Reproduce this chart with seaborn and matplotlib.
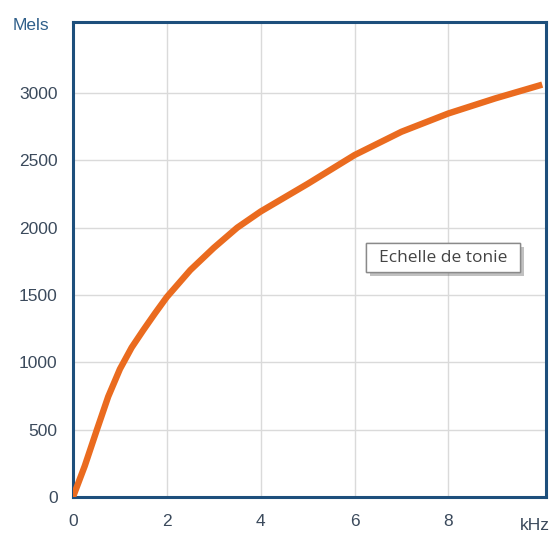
import matplotlib
matplotlib.use("Agg")
import matplotlib.pyplot as plt
import matplotlib.patheffects as pe
from matplotlib.patches import Rectangle
import seaborn as sns
import pandas as pd

freq_khz = [0, 0.25, 0.5, 0.75, 1, 1.25, 1.5, 1.75, 2, 2.5, 3, 3.5, 4, 5, 6, 7, 8, 9, 10]
mels = [0, 230, 490, 745, 950, 1110, 1240, 1365, 1485, 1685, 1850, 2000, 2120, 2325, 2539, 2712, 2848, 2960, 3062]
x_ticks = [0, 2, 4, 6, 8]
y_ticks = [0, 500, 1000, 1500, 2000, 2500, 3000]
y_label = "Mels"
x_label = "kHz"
note = "Echelle de tonie"

sns.set_theme(style="white")
plt.rcParams['font.family'] = ['Liberation Sans', 'DejaVu Sans']

frame = "#1d4f7c"
tcol = "#3b4a5c"
W, H = 553, 536

fig = plt.figure(figsize=(5.53, 5.36), dpi=100)
ax = fig.add_axes([73 / W, 1 - 497 / H, (546 - 73) / W, (497 - 22) / H])

df = pd.DataFrame({"f": freq_khz, "m": mels})
sns.lineplot(data=df, x="f", y="m", ax=ax, color="#ea6b1f", linewidth=4.6,
             solid_capstyle="butt", solid_joinstyle="round", zorder=3)

ax.set_xlim(0, 10.08)
ax.set_ylim(0, 3527)
ax.set_xticks(x_ticks)
ax.set_yticks(y_ticks)
ax.set_xlabel("")
ax.set_ylabel("")
ax.grid(True, color="#dadada", linewidth=1.0, zorder=0)
for s in ax.spines.values():
    s.set_color(frame)
    s.set_linewidth(2.2)
    s.set_visible(True)
ax.tick_params(axis="both", direction="out", length=7, width=2.2, color=frame,
               labelcolor=tcol, labelsize=12.5, pad=4)
ax.tick_params(axis="x", pad=5)

fig.text(13 / W, 1 - 25 / H, y_label, ha="left", va="center", color="#2f5f8a",
         fontsize=12.5)
fig.text(535 / W, 1 - 525 / H, x_label, ha="center", va="center", color=tcol,
         fontsize=12.5)

# annotation box (pixel coordinates)
bx0, by0, bx1, by1 = 366, 243, 520, 272
rect = Rectangle((bx0 / W, 1 - by1 / H), (bx1 - bx0) / W, (by1 - by0) / H,
                 transform=fig.transFigure, facecolor="white", edgecolor="#8a8a8a",
                 linewidth=1.0, zorder=5)
rect.set_path_effects([
    pe.withSimplePatchShadow(offset=(3, -3), shadow_rgbFace="#777777", alpha=0.45),
    pe.Normal()])
fig.add_artist(rect)
fig.text((bx0 + bx1) / 2 / W, 1 - (by0 + by1) / 2 / H, note, ha="center",
         va="center", color="#444444", fontsize=12.5,
         family=["Open Sans", "DejaVu Sans"], zorder=6)

fig.savefig("out.png", dpi=100)
